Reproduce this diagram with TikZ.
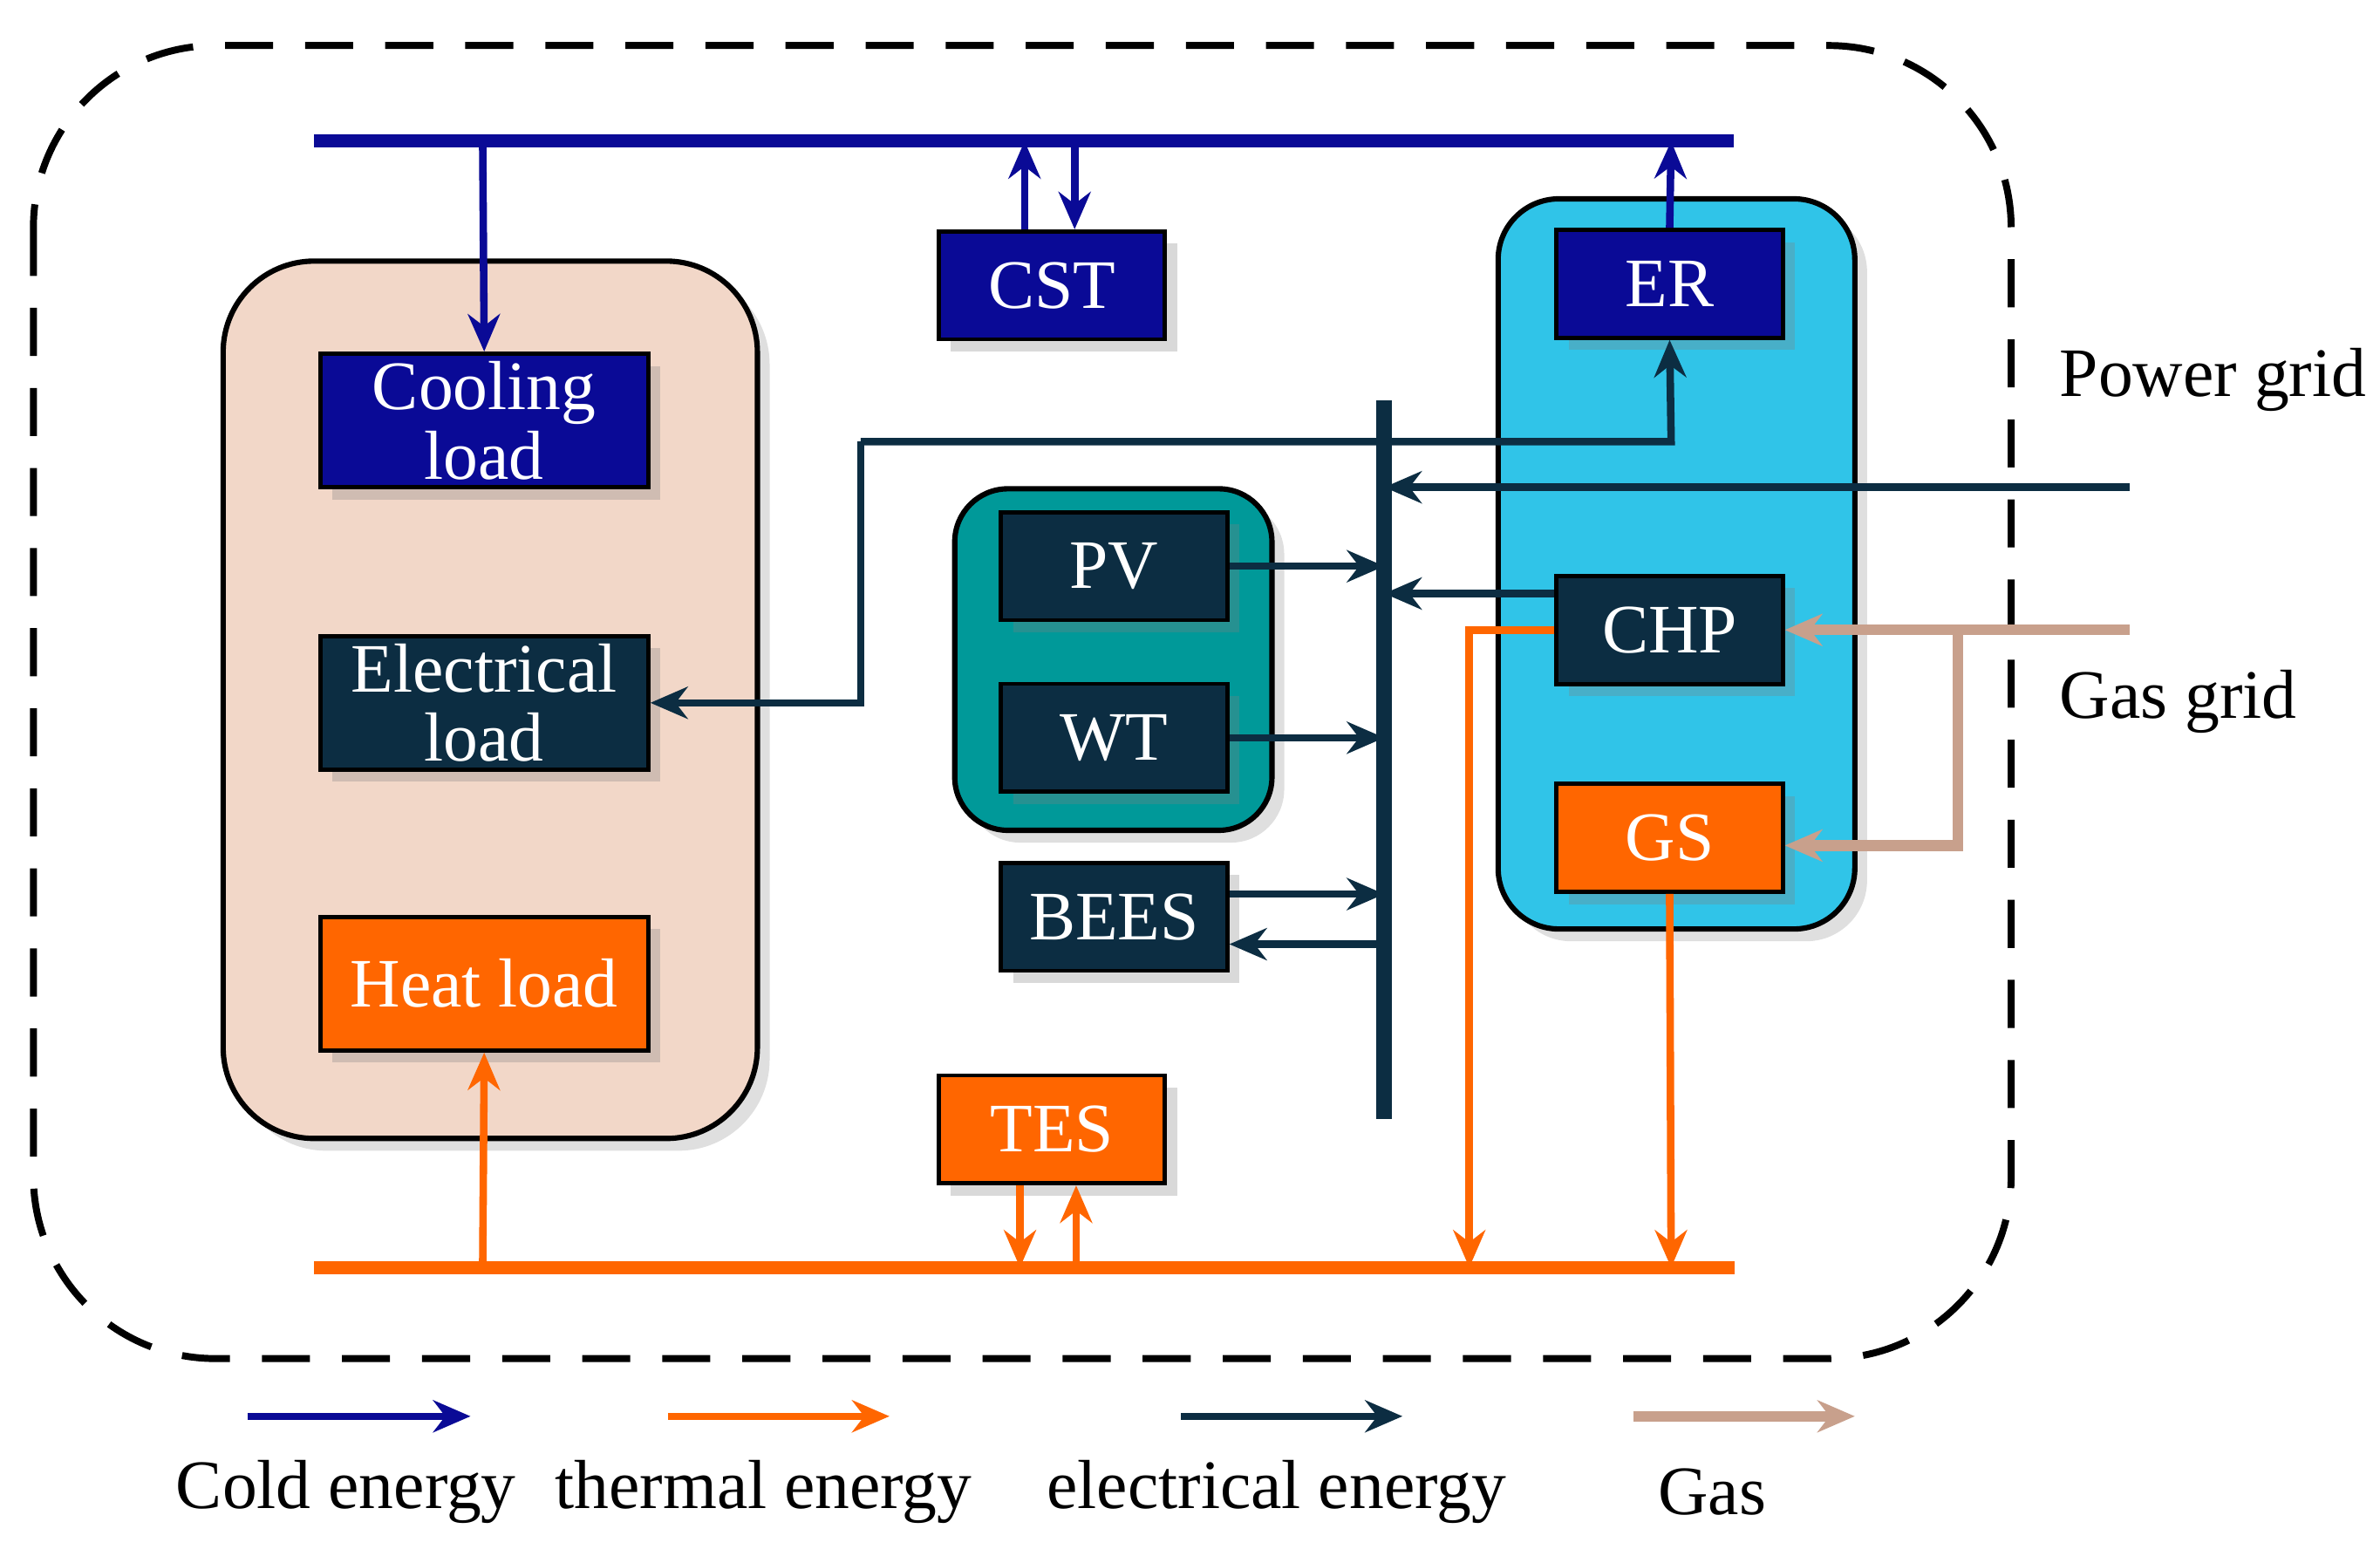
\documentclass[tikz,border=0pt]{standalone}
\usepackage{fontspec}
\setmainfont{Liberation Serif}
\usetikzlibrary{arrows.meta,positioning,calc,shadows}
\definecolor{cold}{RGB}{10,10,150}
\definecolor{elec}{RGB}{12,45,66}
\definecolor{heat}{RGB}{255,102,0}
\definecolor{gas}{RGB}{200,160,140}
\definecolor{peach}{RGB}{242,215,200}
\definecolor{cyanbox}{RGB}{48,196,232}
\definecolor{tealbox}{RGB}{0,153,153}
\begin{document}
\begin{tikzpicture}[x=0.01cm,y=-0.01cm,>={Stealth[length=7pt,width=6pt]},
    box/.style={draw=black,line width=0.8pt,minimum width=1.49cm,minimum height=0.71cm,
      text=white,font=\fontsize{13}{13}\selectfont,drop shadow={opacity=0.3},inner sep=1pt,align=center},
    ce/.style={cold,line width=1.4pt},
    ee/.style={elec,line width=1.4pt},
    he/.style={heat,line width=1.4pt},
    ge/.style={gas,line width=2pt},
    lbl/.style={font=\fontsize{13}{13}\selectfont}]
    \useasboundingbox (0,0) rectangle (1568,1025);

    % outer system border
    \draw[dashed,line width=1.3pt,dash pattern=on 9pt off 6pt,rounded corners=1.2cm] (22,30) rectangle (1325,895);

    % group boxes
    \draw[line width=1pt,fill=peach,rounded corners=0.6cm,drop shadow={opacity=0.25}] (147,172) rectangle (499,750);
    \draw[line width=1pt,fill=cyanbox,rounded corners=0.4cm,drop shadow={opacity=0.25}] (987,131) rectangle (1222,612);
    \draw[line width=1pt,fill=tealbox,rounded corners=0.35cm,drop shadow={opacity=0.25}] (629,322) rectangle (838,547);

    % units
    \node[box,fill=cold,minimum width=2.16cm,minimum height=0.88cm] (cool) at (319,277) {Cooling\\load};
    \node[box,fill=elec,minimum width=2.16cm,minimum height=0.88cm] (eload) at (319,463) {Electrical\\load};
    \node[box,fill=heat,minimum width=2.16cm,minimum height=0.88cm] (hload) at (319,648) {Heat load};
    \node[box,fill=cold] (cst) at (693,188) {CST};
    \node[box,fill=cold] (er) at (1100,187) {ER};
    \node[box,fill=elec] (chp) at (1100,415) {CHP};
    \node[box,fill=heat] (gs) at (1100,552) {GS};
    \node[box,fill=elec] (pv) at (734,373) {PV};
    \node[box,fill=elec] (wt) at (734,486) {WT};
    \node[box,fill=elec] (bees) at (734,604) {BEES};
    \node[box,fill=heat] (tes) at (693,744) {TES};

    % buses
    \coordinate (cl) at (207,93);  \coordinate (cr) at (1142,93);
    \coordinate (hl) at (207,835); \coordinate (hr) at (1143,835);
    \coordinate (et) at (912,264); \coordinate (eb) at (912,737);
    \draw[cold,line width=2.5pt] (cl) -- (cr);
    \draw[heat,line width=2.5pt] (hl) -- (hr);
    \draw[elec,line width=3pt] (et) -- (eb);

    % cold energy
    \draw[ce,->] (318,93) -- (cool.north);
    \draw[ce,->] (cst.north -| 675,0) -- (675,93);
    \draw[ce,->] (708,93) -- (cst.north -| 708,0);
    \draw[ce,->] (er.north) -- (1101,93);

    % electrical energy
    \draw[ee,->] (567,291) -- (1101,291) -- (er.south);
    \draw[ee,->] (567,291) -- (567,463) -- (eload.east);
    \coordinate (pg) at (1403,321);
    \draw[ee,->] (pg) -- (912,321);
    \draw[ee,->] (pv.east) -- (912,373);
    \draw[ee,->] (wt.east) -- (912,486);
    \draw[ee,->] (bees.east |- 0,589) -- (912,589);
    \draw[ee,->] (912,622) -- (bees.east |- 0,622);
    \draw[ee,->] (chp.west |- 0,391) -- (912,391);

    % thermal energy
    \draw[he,->] (chp.west) -- (968,415) -- (968,835);
    \draw[he,->] (gs.south) -- (1101,835);
    \draw[he,->] (318,835) -- (hload.south);
    \draw[he,->] (tes.south -| 672,0) -- (672,835);
    \draw[he,->] (709,835) -- (tes.south -| 709,0);

    % gas
    \coordinate (gg) at (1403,415);
    \draw[ge,->] (gg) -- (chp.east);
    \draw[ge,->] (1290,415) -- (1290,557) -- (gs.east |- 0,557);

    \node[lbl] (pgl) at (1458,250) {Power grid};
    \node[lbl] (ggl) at (1435,462) {Gas grid};

    % legend
    \draw[ce,->] (163,933) -- (310,933);
    \draw[he,->] (440,933) -- (586,933);
    \draw[ee,->] (778,933) -- (924,933);
    \draw[ge,->] (1076,933) -- (1222,933);
    \node[lbl] (l1) at (228,983) {Cold energy};
    \node[lbl] (l2) at (503,983) {thermal energy};
    \node[lbl] (l3) at (841,983) {electrical energy};
    \node[lbl] (l4) at (1128,983) {Gas};
\end{tikzpicture}
\end{document}
